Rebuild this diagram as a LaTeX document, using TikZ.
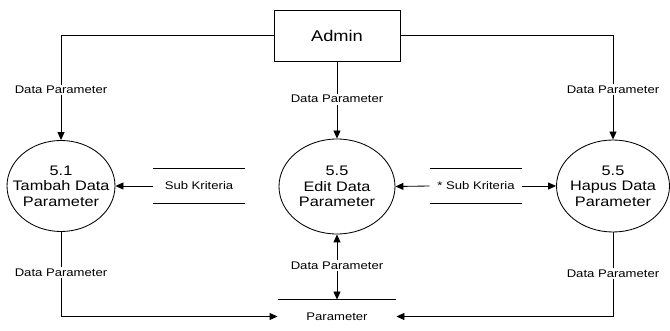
\documentclass[tikz,border=0pt]{standalone}
\usepackage{fontspec}
\setmainfont{Liberation Sans}
\usepackage{graphicx}
\usetikzlibrary{arrows.meta,shapes.geometric}
\newcommand{\widetxt}[1]{\scalebox{1.18}[1]{#1}}
\newcommand{\ctrtxt}[1]{\makebox[0pt]{\scalebox{1.18}[1]{#1}}}
\begin{document}
\begin{tikzpicture}[x=1pt,y=-1pt, line width=0.85pt,
  arr/.style={-{Triangle[length=8pt,width=7pt]}},
  arrb/.style={{Triangle[length=8pt,width=7pt]}-{Triangle[length=8pt,width=7pt]}},
  proc/.style={draw, ellipse, inner sep=0pt, align=center, font=\fontsize{13.8}{15.5}\selectfont},
  lbl/.style={fill=white, inner sep=1.5pt, font=\fontsize{11.1}{13}\selectfont},
  store/.style={inner sep=0pt, minimum width=92pt, minimum height=34pt, font=\fontsize{11.1}{13}\selectfont}]
\useasboundingbox[fill=white] (0,0) rectangle (670,331);
% external entity
\node[draw, minimum width=126pt, minimum height=51pt, inner sep=0pt, font=\fontsize{15.5}{18}\selectfont] (admin) at (337,35.5) {\widetxt{Admin}};
% processes
\node[proc, minimum width=108pt, minimum height=91pt] (c1) at (61,186) {\ctrtxt{5.1}\\\ctrtxt{Tambah Data}\\\ctrtxt{Parameter}};
\node[proc, minimum width=116pt, minimum height=95pt] (c2) at (337,186.5) {\ctrtxt{5.5}\\\ctrtxt{Edit Data}\\\ctrtxt{Parameter}};
\node[proc, minimum width=113pt, minimum height=92pt] (c3) at (613,186) {\ctrtxt{5.5}\\\ctrtxt{Hapus Data}\\\ctrtxt{Parameter}};
% data stores
\node[store] (s1) at (199,186) {\widetxt{Sub Kriteria}};
\draw (s1.north west) -- (s1.north east);
\draw (s1.south west) -- (s1.south east);
\node[store] (s2) at (476,186) {\widetxt{* Sub Kriteria}};
\draw (s2.north west) -- (s2.north east);
\draw (s2.south west) -- (s2.south east);
\node[inner sep=0pt, minimum width=118pt, minimum height=33pt, font=\fontsize{11.1}{13}\selectfont] (ps) at (337,316.5) {\widetxt{Parameter}};
\draw (ps.north west) -- (ps.north east);
% flows from Admin
\draw[arr] (admin.west) -| node[lbl, pos=0.76] (l1) {\widetxt{Data Parameter}} (c1.north);
\draw[arr] (admin.south) -- node[lbl, pos=0.49] (l2) {\widetxt{Data Parameter}} (c2.north);
\draw[arr] (admin.east) -| node[lbl, pos=0.76] (l3) {\widetxt{Data Parameter}} (c3.north);
% flows with Sub Kriteria
\draw[arr] (s1.west) -- (c1.east);
\draw[arr] (s2.west) -- (c2.east);
\draw[arr] (s2.east) -- (c3.west);
% flows to Parameter
\draw[arr] (c1.south) |- node[lbl, pos=0.24] (l4) {\widetxt{Data Parameter}} (ps.west);
\draw[arrb] (c2.south) -- node[lbl, pos=0.48] (l5) {\widetxt{Data Parameter}} (ps.north);
\draw[arr] (c3.south) |- node[lbl, pos=0.245] (l6) {\widetxt{Data Parameter}} (ps.east);
\end{tikzpicture}
\end{document}
